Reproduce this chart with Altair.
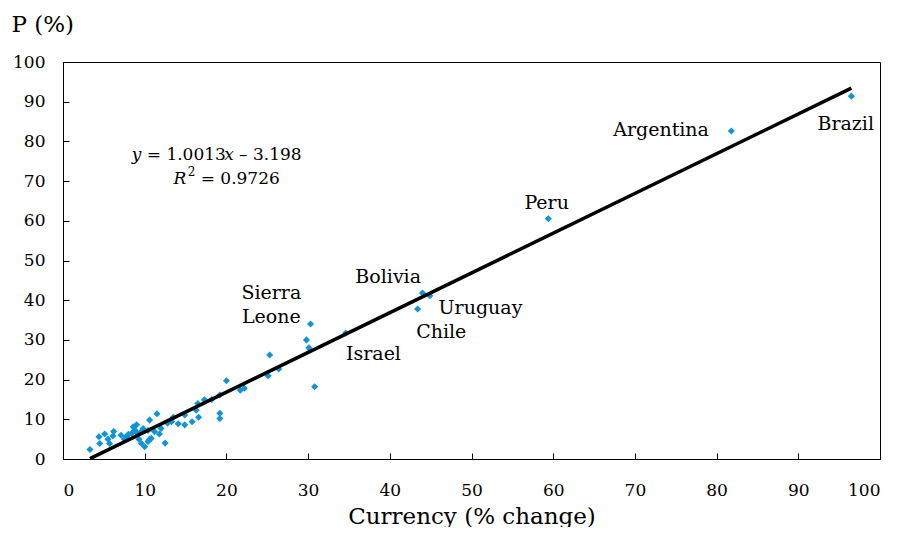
import altair as alt
import pandas as pd

# ---- data ----
cur_x = [96.5, 81.8, 59.4, 44.0, 44.9, 43.4, 34.6, 30.3,
         29.8, 30.1, 25.3, 26.4, 25.1, 30.8, 21.7, 22.2, 20.0, 19.2, 19.2, 19.2,
         18.2, 17.3, 16.5, 16.3, 16.6, 15.8, 14.9, 14.9, 14.1, 13.5, 13.3, 12.8,
         12.5, 11.8, 12.0, 11.5, 11.2, 10.6, 10.6, 10.8, 10.4, 10.0, 9.8, 9.6,
         9.3, 9.1, 9.0, 8.8, 8.6, 8.4, 7.8, 7.5, 7.1, 6.2, 6.1, 5.7, 5.5, 5.1,
         4.5, 4.4, 3.3, 10.4, 9.5, 8.0]
p_y = [91.4, 82.6, 60.5, 41.8, 41.1, 37.8, 31.7, 34.0,
       30.0, 28.0, 26.2, 22.7, 21.0, 18.2, 17.3, 17.8, 19.7, 16.1, 11.5, 10.2,
       15.0, 14.9, 14.0, 12.3, 10.5, 9.4, 8.6, 11.1, 8.9, 10.5, 9.4, 9.0,
       4.0, 6.3, 7.7, 11.4, 6.9, 9.8, 5.0, 5.2, 4.4, 3.1, 7.7, 3.9,
       5.0, 6.5, 8.6, 7.3, 8.1, 6.5, 5.8, 5.0, 6.0, 6.9, 5.8, 3.9, 5.0, 6.3,
       3.9, 5.6, 2.4, 7.2, 6.8, 6.2]

label_names = ["Argentina", "Brazil", "Peru", "Bolivia", "Uruguay", "Chile",
               "Israel", "Sierra", "Leone"]
label_x = [73.2, 95.8, 59.2, 39.8, 51.1, 46.3, 38.0, 25.5, 25.5]
label_y = [82.9, 84.4, 64.5, 45.8, 38.0, 32.0, 26.4, 41.8, 35.8]

slope = 1.0013
intercept = -3.198
trend_x = [3.3, 96.5]

eq_italic_text = ["y", "x", "R"]
eq_italic_x = [8.4, 19.75, 13.54]
eq_italic_y = [76.5, 76.5, 70.5]
eq_normal_text = ["= 1.0013", "– 3.198", "= 0.9726"]
eq_normal_x = [10.25, 21.55, 16.85]
eq_normal_y = [76.5, 76.5, 70.5]
sup_text = ["2"]
sup_x = [15.26]
sup_y = [72.4]

tick_vals = list(range(0, 101, 10))

FONT = "DejaVu Serif"
BLUE = "#0f95d6"
W, H = 817, 397

xs = alt.Scale(domain=[0, 100], nice=False, zero=False)
ys = alt.Scale(domain=[0, 100], nice=False, zero=False)

pts = pd.DataFrame({"x": cur_x, "y": p_y})

points = alt.Chart(pts).mark_point(
    shape="diamond", filled=True, size=50, color=BLUE, opacity=1
).encode(
    x=alt.X("x:Q", scale=xs, axis=alt.Axis(
        orient="bottom", values=tick_vals, ticks=False, grid=False,
        domainColor="black", domainWidth=1,
        labelFont=FONT, labelFontSize=17, labelColor="black", labelPadding=23,
        title="Currency (% change)", titleFont=FONT, titleFontSize=23,
        titleFontWeight="normal", titleColor="black", titleY=64,
        titleBaseline="alphabetic")),
    y=alt.Y("y:Q", scale=ys, axis=alt.Axis(
        orient="left", values=tick_vals, ticks=False, grid=False,
        domainColor="black", domainWidth=1,
        labelFont=FONT, labelFontSize=17, labelColor="black", labelPadding=18,
        title="P (%)", titleFont=FONT, titleFontSize=23,
        titleFontWeight="normal", titleColor="black", titleAngle=0,
        titleAlign="left", titleBaseline="alphabetic", titleX=-52, titleY=-31)),
)

trend_df = pd.DataFrame({"x": trend_x})
line = alt.Chart(trend_df).transform_calculate(
    y=f"{slope} * datum.x + ({intercept})"
).mark_line(color="black", strokeWidth=3.5).encode(
    x=alt.X("x:Q", scale=xs, axis=alt.Axis(
        orient="top", offset=-H, values=tick_vals, labels=False, domain=False,
        ticks=True, tickSize=6, tickColor="black", grid=False, title=None)),
    y=alt.Y("y:Q", scale=ys, axis=alt.Axis(
        orient="right", offset=-W, values=tick_vals, labels=False, domain=False,
        ticks=True, tickSize=6, tickColor="black", grid=False, title=None)),
)

lab_df = pd.DataFrame({"t": label_names, "x": label_x, "y": label_y})
labels = alt.Chart(lab_df).mark_text(
    font=FONT, fontSize=19, color="black", align="center", baseline="middle"
).encode(
    x=alt.X("x:Q", scale=xs, axis=None),
    y=alt.Y("y:Q", scale=ys, axis=None),
    text="t:N",
)

it_df = pd.DataFrame({"t": eq_italic_text, "x": eq_italic_x, "y": eq_italic_y})
eq_it = alt.Chart(it_df).mark_text(
    font=FONT, fontSize=17, fontStyle="italic", color="black",
    align="left", baseline="middle"
).encode(
    x=alt.X("x:Q", scale=xs, axis=None),
    y=alt.Y("y:Q", scale=ys, axis=None),
    text="t:N",
)

nm_df = pd.DataFrame({"t": eq_normal_text, "x": eq_normal_x, "y": eq_normal_y})
eq_nm = alt.Chart(nm_df).mark_text(
    font=FONT, fontSize=17, color="black", align="left", baseline="middle"
).encode(
    x=alt.X("x:Q", scale=xs, axis=None),
    y=alt.Y("y:Q", scale=ys, axis=None),
    text="t:N",
)

sp_df = pd.DataFrame({"t": sup_text, "x": sup_x, "y": sup_y})
eq_sp = alt.Chart(sp_df).mark_text(
    font=FONT, fontSize=12, color="black", align="left", baseline="middle"
).encode(
    x=alt.X("x:Q", scale=xs, axis=None),
    y=alt.Y("y:Q", scale=ys, axis=None),
    text="t:N",
)

chart = alt.layer(points, line, labels, eq_it, eq_nm, eq_sp).resolve_axis(
    x="independent", y="independent"
).properties(
    width=W, height=H,
    autosize=alt.AutoSizeParams(type="none"),
    padding={"left": 55, "top": 54, "right": 10, "bottom": 68},
    background="white",
).configure_view(stroke="black", strokeWidth=1)

chart.save("out.html", embed_options={"renderer": "svg", "actions": False})
